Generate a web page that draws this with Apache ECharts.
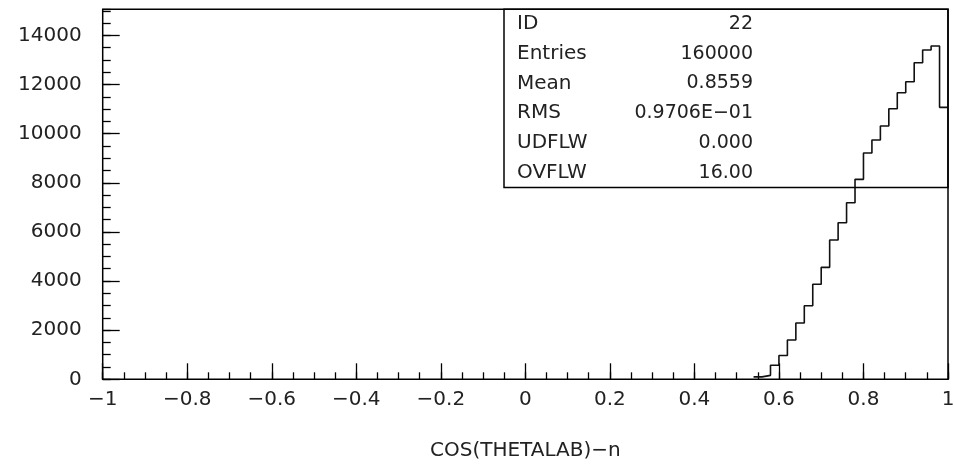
<!DOCTYPE html>
<html>
<head>
<meta charset="utf-8">
<script src="https://cdn.jsdelivr.net/npm/echarts@6/dist/echarts.min.js"></script>
<style>
html,body{margin:0;padding:0;background:#fff;}
#main{width:954px;height:466px;}
</style>
</head>
<body>
<div id="main"></div>
<script>
// ---- data ----
var binLo = [0.54,0.56,0.58,0.60,0.62,0.64,0.66,0.68,0.70,0.72,0.74,0.76,0.78,0.80,0.82,0.84,0.86,0.88,0.90,0.92,0.94,0.96,0.98];
var counts = [100,160,570,969,1600,2291,2996,3866,4557,5670,6375,7189,8139,9211,9740,10310,11015,11666,12114,12887,13403,13566,11070];
var binHi = 1.0;
var xMin = -1, xMax = 1, yMin = 0, yMax = 15060;
var statLabels = ["ID","Entries","Mean","RMS","UDFLW","OVFLW"];
var statValues = ["22","160000","0.8559","0.9706E\u221201","0.000","16.00"];
var xTitle = "COS(THETALAB)\u2212n";

// ---- chart ----
var FONT = "DejaVu Sans";
var TXT = "#222";
var data = binLo.map(function(x,i){return [x,counts[i]];});
data.push([binHi, counts[counts.length-1]]);

var gridL = 102.7, gridT = 9.3, gridR = 6, gridB = 86.7;

var graphics = [];
var boxX = 504, boxY = gridT, boxW = 954 - gridR - boxX, boxH = 178.2;
graphics.push({type:'rect', shape:{x:boxX,y:boxY,width:boxW,height:boxH}, style:{fill:null, stroke:'#000', lineWidth:1.5}, z:10});
var rowH = boxH / statLabels.length;
statLabels.forEach(function(l,i){
  var cy = boxY + rowH*(i+0.5);
  graphics.push({type:'text', x:517, y:cy, style:{text:l, font:'20px "'+FONT+'"', fill:TXT, textAlign:'left', textVerticalAlign:'middle'}, z:11});
  graphics.push({type:'text', x:753, y:cy, style:{text:statValues[i], font:'19px "'+FONT+'"', fill:TXT, textAlign:'right', textVerticalAlign:'middle'}, z:11});
});

var chart = echarts.init(document.getElementById('main'), null, {renderer:'canvas'});
chart.setOption({
  animation:false,
  backgroundColor:'#fff',
  grid:{left:gridL, top:gridT, right:gridR, bottom:gridB, show:true, borderColor:'#000', borderWidth:1.5, backgroundColor:'transparent', containLabel:false, outerBoundsMode:'none'},
  xAxis:[
    {type:'value', min:xMin, max:xMax, interval:0.2, position:'bottom',
     axisLine:{show:false, onZero:false}, splitLine:{show:false},
     axisTick:{show:true, inside:true, length:16, lineStyle:{color:'#000', width:1.3}},
     axisLabel:{margin:10, fontFamily:FONT, fontSize:20, color:TXT,
       formatter:function(v){var s = String(Math.round(v*10)/10); return s.replace('-', '\u2212');}},
     name:xTitle, nameLocation:'middle', nameGap:61,
     nameTextStyle:{fontFamily:FONT, fontSize:20, color:TXT}},
    {type:'value', min:xMin, max:xMax, interval:0.05, position:'bottom',
     axisLine:{show:false, onZero:false}, splitLine:{show:false}, axisLabel:{show:false},
     axisTick:{show:true, inside:true, length:7, lineStyle:{color:'#000', width:1.3}}}
  ],
  yAxis:[
    {type:'value', min:yMin, max:yMax, interval:2000, position:'left',
     axisLine:{show:false, onZero:false}, splitLine:{show:false},
     axisTick:{show:true, inside:true, length:17, lineStyle:{color:'#000', width:1.3}},
     axisLabel:{margin:21, fontFamily:FONT, fontSize:20, color:TXT, showMaxLabel:false,
       formatter:function(v){return String(v);}}},
    {type:'value', min:yMin, max:yMax, interval:500, position:'left',
     axisLine:{show:false, onZero:false}, splitLine:{show:false}, axisLabel:{show:false},
     axisTick:{show:true, inside:true, length:8, lineStyle:{color:'#000', width:1.3}}}
  ],
  series:[{
    type:'line', step:'end', data:data, xAxisIndex:0, yAxisIndex:0,
    showSymbol:false, symbol:'none', clip:true,
    lineStyle:{color:'#111', width:1.6}, z:5
  }],
  graphic:graphics
});
</script>
</body>
</html>
